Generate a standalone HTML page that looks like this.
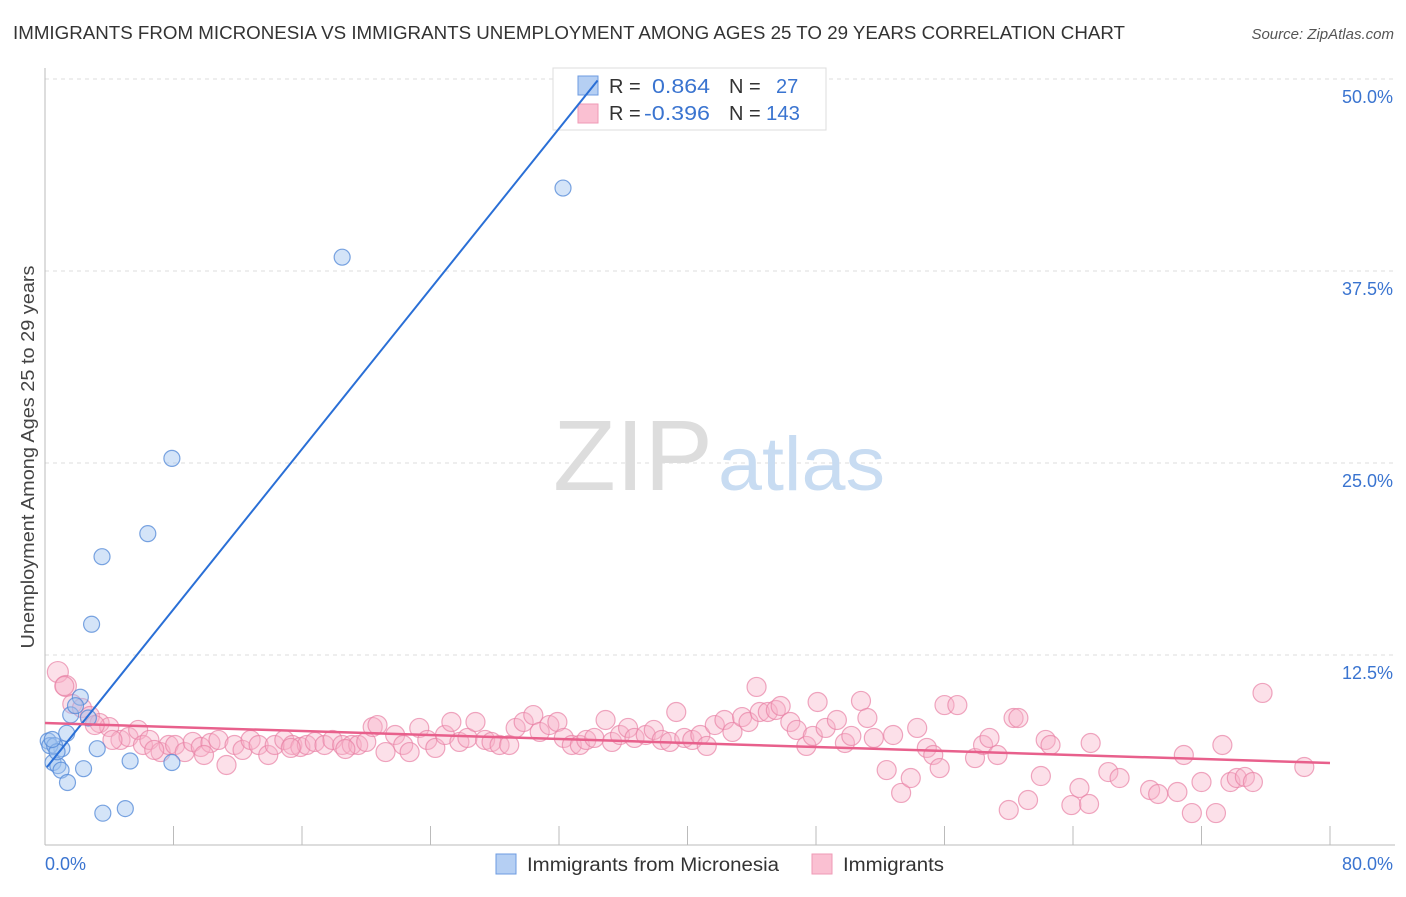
<!DOCTYPE html>
<html><head><meta charset="utf-8"><style>
body{margin:0;background:#fff;font-family:"Liberation Sans",sans-serif}
svg text{font-family:"Liberation Sans",sans-serif}
</style></head><body>
<svg id="chart" width="1406" height="892" viewBox="0 0 1406 892" xmlns="http://www.w3.org/2000/svg">
<text x="13" y="39" font-size="18" fill="#333" textLength="1112" lengthAdjust="spacingAndGlyphs">IMMIGRANTS FROM MICRONESIA VS IMMIGRANTS UNEMPLOYMENT AMONG AGES 25 TO 29 YEARS CORRELATION CHART</text>
<text x="1394" y="39" font-size="15" fill="#555" text-anchor="end" font-style="italic">Source: ZipAtlas.com</text>
<g id="grid"></g>
<text x="553" y="490" font-size="100" fill="#ddd" font-family="Liberation Serif" textLength="160" lengthAdjust="spacingAndGlyphs">ZIP</text>
<text x="718" y="490" font-size="76" fill="#c8dcf2" textLength="167" lengthAdjust="spacingAndGlyphs">atlas</text>
<g id="pts"></g>
<text transform="translate(34,457) rotate(-90)" font-size="18" fill="#444" text-anchor="middle" textLength="383" lengthAdjust="spacingAndGlyphs">Unemployment Among Ages 25 to 29 years</text>
<text x="45" y="870" font-size="18" fill="#3a74d0">0.0%</text>
<text x="1393" y="870" font-size="18" fill="#3a74d0" text-anchor="end">80.0%</text>
<g>
<rect x="553" y="68" width="273" height="62" fill="#fff" stroke="#ddd"/>
<rect x="578" y="76" width="20" height="19" fill="#b5cff3" stroke="#6d9be0"/>
<rect x="578" y="104" width="20" height="19" fill="#fac0d2" stroke="#ef9ab6"/>
<text x="609" y="93" font-size="20" fill="#333">R =</text><text x="652" y="93" font-size="20" fill="#3a74d0" textLength="58" lengthAdjust="spacingAndGlyphs">0.864</text>
<text x="729" y="93" font-size="20" fill="#333">N =</text><text x="776" y="93" font-size="20" fill="#3a74d0">27</text>
<text x="609" y="120" font-size="20" fill="#333">R =</text><text x="644" y="120" font-size="20" fill="#3a74d0" textLength="66" lengthAdjust="spacingAndGlyphs">-0.396</text>
<text x="729" y="120" font-size="20" fill="#333">N =</text><text x="766" y="120" font-size="20" fill="#3a74d0" textLength="34" lengthAdjust="spacingAndGlyphs">143</text>
</g>
<g id="lines"></g>
<g>
<rect x="496" y="854" width="20" height="20" fill="#b5cff3" stroke="#6d9be0"/>
<text x="527" y="871" font-size="19" fill="#333" textLength="252" lengthAdjust="spacingAndGlyphs">Immigrants from Micronesia</text>
<rect x="812" y="854" width="20" height="20" fill="#fac0d2" stroke="#ef9ab6"/>
<text x="843" y="871" font-size="19" fill="#333" textLength="101" lengthAdjust="spacingAndGlyphs">Immigrants</text>
</g>
</svg>
<script>
const blueX=[32.25,18.5,7.9,6.4,3.55,2.9,2.2,1.6,2.7,1.35,1.05,3.25,5.3,7.9,0.2,0.3,0.6,0.5,0.8,1.0,1.4,2.4,3.6,5.0,1.9,0.75,0.45];
const blueY=[42.9,38.4,25.3,20.4,18.9,14.5,9.75,8.6,8.4,7.4,6.4,6.4,5.6,5.5,6.9,6.6,6.6,5.5,5.3,5.0,4.2,5.1,2.2,2.5,9.2,6.2,7.0];
const pinkX=[0.8,1.3,1.7,2.3,2.8,3.4,4.0,4.7,5.2,5.8,6.1,6.5,7.2,7.7,8.1,8.7,9.2,9.7,10.3,10.8,11.3,11.8,12.3,12.8,13.3,13.9,14.3,14.9,15.4,15.9,16.3,16.8,17.4,17.9,18.5,19.1,19.5,20.0,20.4,20.7,21.2,21.8,22.3,22.7,23.3,23.8,24.3,24.9,25.3,25.8,26.3,26.8,27.4,27.8,28.3,28.9,29.3,29.8,30.4,30.8,31.4,31.9,32.3,32.8,33.3,33.7,34.2,34.9,35.3,35.8,36.3,36.7,37.4,37.9,38.4,38.9,39.3,39.8,40.3,40.8,41.2,41.7,42.3,42.8,43.4,43.8,44.3,44.5,45.0,45.5,45.8,46.4,46.8,47.4,47.8,48.1,48.6,49.3,49.8,50.2,50.8,51.2,51.6,52.4,52.8,53.3,53.9,54.3,54.9,55.3,55.7,56.0,56.8,57.9,58.4,58.8,59.3,60.0,60.3,60.6,61.2,62.0,62.3,62.6,63.9,64.4,65.0,65.1,66.2,66.9,68.8,69.3,70.5,70.9,71.4,72.0,72.9,73.3,73.8,74.2,74.7,75.2,75.8,78.4,1.2,3.1,4.2,6.8,9.9,15.3,18.7];
const pinkY=[11.39,10.48,9.31,9.05,8.53,8.07,7.81,6.97,7.16,7.62,6.64,6.97,6.18,6.64,6.64,6.18,6.84,6.51,6.77,6.97,5.34,6.64,6.32,6.97,6.64,5.99,6.64,6.97,6.64,6.51,6.64,6.84,6.64,6.97,6.64,6.64,6.64,6.84,7.81,7.94,6.18,7.29,6.64,6.18,7.75,6.97,6.45,7.29,8.14,6.84,7.10,8.14,6.97,6.84,6.64,6.64,7.75,8.14,8.59,7.49,7.94,8.14,7.10,6.64,6.64,6.97,7.10,8.27,6.84,7.29,7.75,7.10,7.29,7.62,6.97,6.84,8.79,7.10,6.97,7.29,6.58,7.94,8.27,7.49,8.46,8.14,10.42,8.79,8.79,8.92,9.18,8.14,7.62,6.58,7.23,9.44,7.75,8.27,6.77,7.23,9.51,8.40,7.10,5.01,7.29,3.52,4.49,7.75,6.45,5.99,5.14,9.24,9.24,5.79,6.64,7.10,5.99,2.41,8.40,8.40,3.06,4.62,6.97,6.64,2.73,3.84,2.80,6.77,4.88,4.49,3.71,3.45,3.58,5.99,2.21,4.23,2.21,6.64,4.23,4.49,4.56,4.23,10.03,5.21,10.48,7.94,6.97,6.32,5.99,6.45,6.38];
const blueTrendX=[0.12,34.4], blueTrendY=[5.2,49.9];
const pinkTrendX=[0,80], pinkTrendY=[8.07,5.47];
const yTicks=[12.5,25.0,37.5,50.0];
const yTickLabels=["12.5%","25.0%","37.5%","50.0%"];
const xTicks=[0,8,16,24,32,40,48,56,64,72,80];
const NS='http://www.w3.org/2000/svg';
const sx=v=>45+v/80*1285;
const sy=v=>847-v*15.36;
function mk(tag,attrs,parent){const e=document.createElementNS(NS,tag);for(const k in attrs)e.setAttribute(k,attrs[k]);parent.appendChild(e);return e;}
const grid=document.getElementById('grid');
yTicks.forEach((t,i)=>{
  const l=mk('line',{x1:45,x2:1395,y1:sy(t),y2:sy(t),stroke:'#ddd','stroke-dasharray':'4,4'},grid);
  
  
  const tx=mk('text',{x:1393,y:sy(t)+24,'font-size':18,fill:'#3a74d0','text-anchor':'end'},grid);
  tx.textContent=yTickLabels[i];
  
  
});
const ax=mk('line',{x1:45,x2:1395,y1:845,y2:845,stroke:'#bbb'},grid);


const ay=mk('line',{x1:45,x2:45,y1:68,y2:845,stroke:'#bbb'},grid);


xTicks.forEach(t=>{
  const l=mk('line',{x1:sx(t),x2:sx(t),y1:826,y2:845,stroke:'#bbb'},grid);
  
  
});
const pts=document.getElementById('pts');
pinkX.forEach((x,i)=>{
  const c=mk('circle',{cx:sx(x),cy:sy(pinkY[i]),r:i<2?10.5:9.5,fill:'rgba(248,178,200,0.4)',stroke:'rgba(232,130,165,0.7)','stroke-width':1.2},pts);
  
  
});
blueX.forEach((x,i)=>{
  const c=mk('circle',{cx:sx(x),cy:sy(blueY[i]),r:8,fill:'rgba(160,195,240,0.45)',stroke:'rgba(80,135,215,0.75)','stroke-width':1.2},pts);
  
  
});
const lines=document.getElementById('lines');
const bl=mk('line',{x1:sx(blueTrendX[0]),y1:sy(blueTrendY[0]),x2:sx(blueTrendX[1]),y2:sy(blueTrendY[1]),stroke:'#2a6fd6','stroke-width':2},lines);


const pl=mk('line',{x1:sx(pinkTrendX[0]),y1:sy(pinkTrendY[0]),x2:sx(pinkTrendX[1]),y2:sy(pinkTrendY[1]),stroke:'#e8608c','stroke-width':2.5},lines);


</script>
</body></html>
